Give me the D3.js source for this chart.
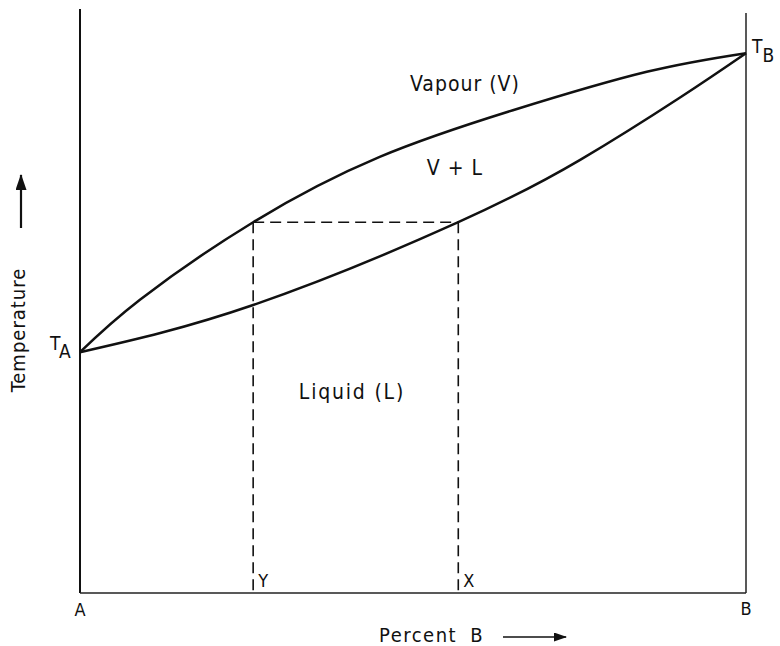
<!DOCTYPE html>
<html>
<head>
<meta charset="utf-8">
<script src="https://cdn.jsdelivr.net/npm/d3@7"></script>
<style>
  body { margin: 0; background: #fff; }
  svg text { font-family: "DejaVu Sans Condensed", "DejaVu Sans", sans-serif; fill: #111; }
</style>
</head>
<body>
<svg id="chart" width="780" height="646"></svg>
<script>
// Percent B vs temperature (arbitrary units, 0–100 of plot height)
const vapourPct  = [0, 9, 26, 45, 65, 85.1, 100];
const vapourTemp = [41.3, 50.3, 63.6, 74.8, 82.8, 89.4, 92.6];
const liquidPct  = [0, 26, 56.8, 75.1, 90.1, 100];
const liquidTemp = [41.3, 49.4, 63.6, 74.3, 85.0, 92.6];
// tie line between the two curves
const tieTemp = 63.6;
const tiePctY = 26;
const tiePctX = 56.8;

const svg = d3.select('#chart');
const plotLeft = 80, plotRight = 746, plotTop = 10, plotBottom = 593;

const x = d3.scaleLinear().domain([0, 100]).range([plotLeft, plotRight]);
const y = d3.scaleLinear().domain([0, 100]).range([plotBottom, plotTop]);

const defs = svg.append('defs');
[['head', 13, 9], ['headBig', 16, 11]].forEach(([id, w, h]) => {
  defs.append('marker')
    .attr('id', id)
    .attr('viewBox', `0 0 ${w} ${h}`)
    .attr('refX', w - 1).attr('refY', h / 2)
    .attr('markerWidth', w).attr('markerHeight', h)
    .attr('markerUnits', 'userSpaceOnUse')
    .attr('orient', 'auto')
    .append('path').attr('d', `M0,0L${w},${h / 2}L0,${h}Z`).attr('fill', '#111');
});

// frame: left axis, bottom axis, right side
svg.append('line')
  .attr('x1', x(0)).attr('x2', x(0)).attr('y1', 9).attr('y2', y(0))
  .attr('stroke', '#111').attr('stroke-width', 2);
svg.append('line')
  .attr('x1', x(0)).attr('x2', x(100)).attr('y1', y(0)).attr('y2', y(0))
  .attr('stroke', '#222').attr('stroke-width', 1.5);
svg.append('line')
  .attr('x1', x(100)).attr('x2', x(100)).attr('y1', 13).attr('y2', y(0))
  .attr('stroke', '#222').attr('stroke-width', 1.5);

// phase boundaries
const line = d3.line()
  .x(d => x(d[0])).y(d => y(d[1]))
  .curve(d3.curveNatural);

svg.append('path')
  .datum(d3.zip(vapourPct, vapourTemp))
  .attr('d', line)
  .attr('fill', 'none').attr('stroke', '#111').attr('stroke-width', 2.5);
svg.append('path')
  .datum(d3.zip(liquidPct, liquidTemp))
  .attr('d', line)
  .attr('fill', 'none').attr('stroke', '#111').attr('stroke-width', 2.5);

// dashed tie line and drop lines
const dash = svg.append('g')
  .attr('stroke', '#111').attr('stroke-width', 1.6)
  .attr('stroke-dasharray', '11,6').attr('fill', 'none');
dash.append('line')
  .attr('x1', x(tiePctY)).attr('x2', x(tiePctX))
  .attr('y1', y(tieTemp)).attr('y2', y(tieTemp));
dash.append('line')
  .attr('x1', x(tiePctY)).attr('x2', x(tiePctY))
  .attr('y1', y(tieTemp)).attr('y2', y(0));
dash.append('line')
  .attr('x1', x(tiePctX)).attr('x2', x(tiePctX))
  .attr('y1', y(tieTemp)).attr('y2', y(0));

// region labels
const label = (tx, ty, s, anchor = 'middle', size = 21, spacing = 1) =>
  svg.append('text')
    .attr('x', tx).attr('y', ty)
    .attr('text-anchor', anchor)
    .attr('font-size', size)
    .attr('letter-spacing', spacing)
    .text(s);

label(465, 91, 'Vapour (V)');
label(455, 175, 'V + L');
label(352, 399, 'Liquid (L)', 'middle', 21, 1.8);

// T_A and T_B
const ta = svg.append('text').attr('x', 50).attr('y', 350).attr('font-size', 19);
ta.append('tspan').text('T');
ta.append('tspan').attr('dy', 8).attr('font-size', 19).text('A');
const tb = svg.append('text').attr('x', 752).attr('y', 53).attr('font-size', 19);
tb.append('tspan').text('T');
tb.append('tspan').attr('dy', 9).attr('font-size', 19).text('B');

// composition markers
label(x(tiePctY) + 5, 587, 'Y', 'start', 18, 0);
label(x(tiePctX) + 5, 587, 'X', 'start', 18, 0);
label(x(0), 616, 'A', 'middle', 18, 0);
label(x(100), 615, 'B', 'middle', 18, 0);

// axis titles with arrows
label(379, 642, 'Percent B', 'start', 20, 1.5).attr('word-spacing', 6);
svg.append('line')
  .attr('x1', 503).attr('x2', 566).attr('y1', 637).attr('y2', 637)
  .attr('stroke', '#111').attr('stroke-width', 1.6)
  .attr('marker-end', 'url(#head)');

svg.append('text')
  .attr('transform', 'translate(25,330) rotate(-90)')
  .attr('text-anchor', 'middle')
  .attr('font-size', 20)
  .attr('letter-spacing', 1)
  .text('Temperature');
svg.append('line')
  .attr('x1', 21).attr('x2', 21).attr('y1', 228).attr('y2', 175)
  .attr('stroke', '#111').attr('stroke-width', 2.2)
  .attr('marker-end', 'url(#headBig)');
</script>
</body>
</html>
